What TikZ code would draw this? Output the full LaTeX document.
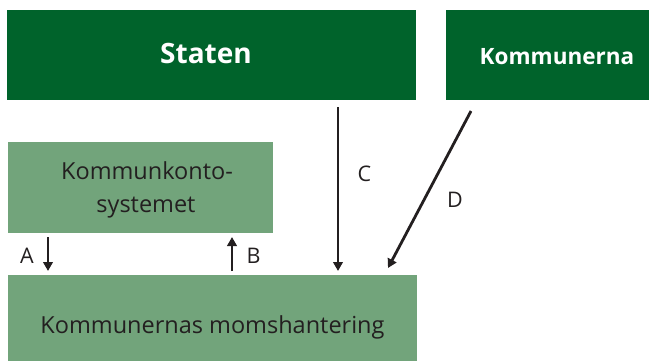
\documentclass[tikz,border=0pt]{standalone}
\usepackage{fontspec}
\setmainfont{Open Sans}
\usetikzlibrary{arrows.meta}
\definecolor{darkgr}{RGB}{0,99,43}
\definecolor{lightgr}{RGB}{114,164,123}
\definecolor{ink}{RGB}{35,31,32}
\tikzset{
  darkbox/.style={fill=darkgr, inner sep=0pt, anchor=north west},
  lightbox/.style={fill=lightgr, inner sep=0pt, anchor=north west},
  wtxt/.style={text=white, inner sep=0pt, anchor=base},
  btxt/.style={text=ink, inner sep=0pt, anchor=base, font=\fontsize{23.5}{33}\selectfont},
  arr/.style={draw=ink, line width=2.8pt, -{Triangle[length=9pt,width=9.5pt]}},
  lbl/.style={text=ink, font=\fontsize{21.5}{24}\selectfont, inner sep=0pt, anchor=base}
}
\begin{document}
\begin{tikzpicture}[x=1pt,y=-1pt]
\useasboundingbox (0,0) rectangle (649,360);
\node[darkbox, minimum width=409pt, minimum height=90pt] (staten) at (7,10) {};
\node[darkbox, minimum width=223pt, minimum height=90pt] (kommunerna) at (446,10) {};
\node[lightbox, minimum width=265pt, minimum height=91pt] (konto) at (8,142) {};
\node[lightbox, minimum width=409pt, minimum height=95pt] (moms) at (8,275) {};
\node[wtxt, font=\bfseries\fontsize{28}{32}\selectfont] (tstaten) at (206,63.5) {Staten};
\node[wtxt, font=\bfseries\fontsize{22.5}{25}\selectfont] (tkommunerna) at (557,64) {Kommunerna};
\node[btxt] (tkonto1) at (147,179) {Kommunkonto-};
\node[btxt] (tkonto2) at (146,212) {systemet};
\node[btxt] (tmoms) at (212.5,333) {Kommunernas momshantering};
\coordinate (a1) at (48,237);
\coordinate (a2) at (48,271);
\coordinate (b1) at (232,271);
\coordinate (b2) at (232,237);
\coordinate (c1) at (338,107);
\coordinate (c2) at (338,271);
\coordinate (d1) at (471,111);
\coordinate (d2) at (388,268);
\draw[arr] (a1) -- (a2);
\draw[arr] (b1) -- (b2);
\draw[arr] (c1) -- (c2);
\draw[arr] (d1) -- (d2);
\node[lbl] (la) at (27,263) {A};
\node[lbl] (lb) at (253.5,263) {B};
\node[lbl] (lc) at (364.5,181) {C};
\node[lbl] (ld) at (455,207) {D};
\end{tikzpicture}
\end{document}
